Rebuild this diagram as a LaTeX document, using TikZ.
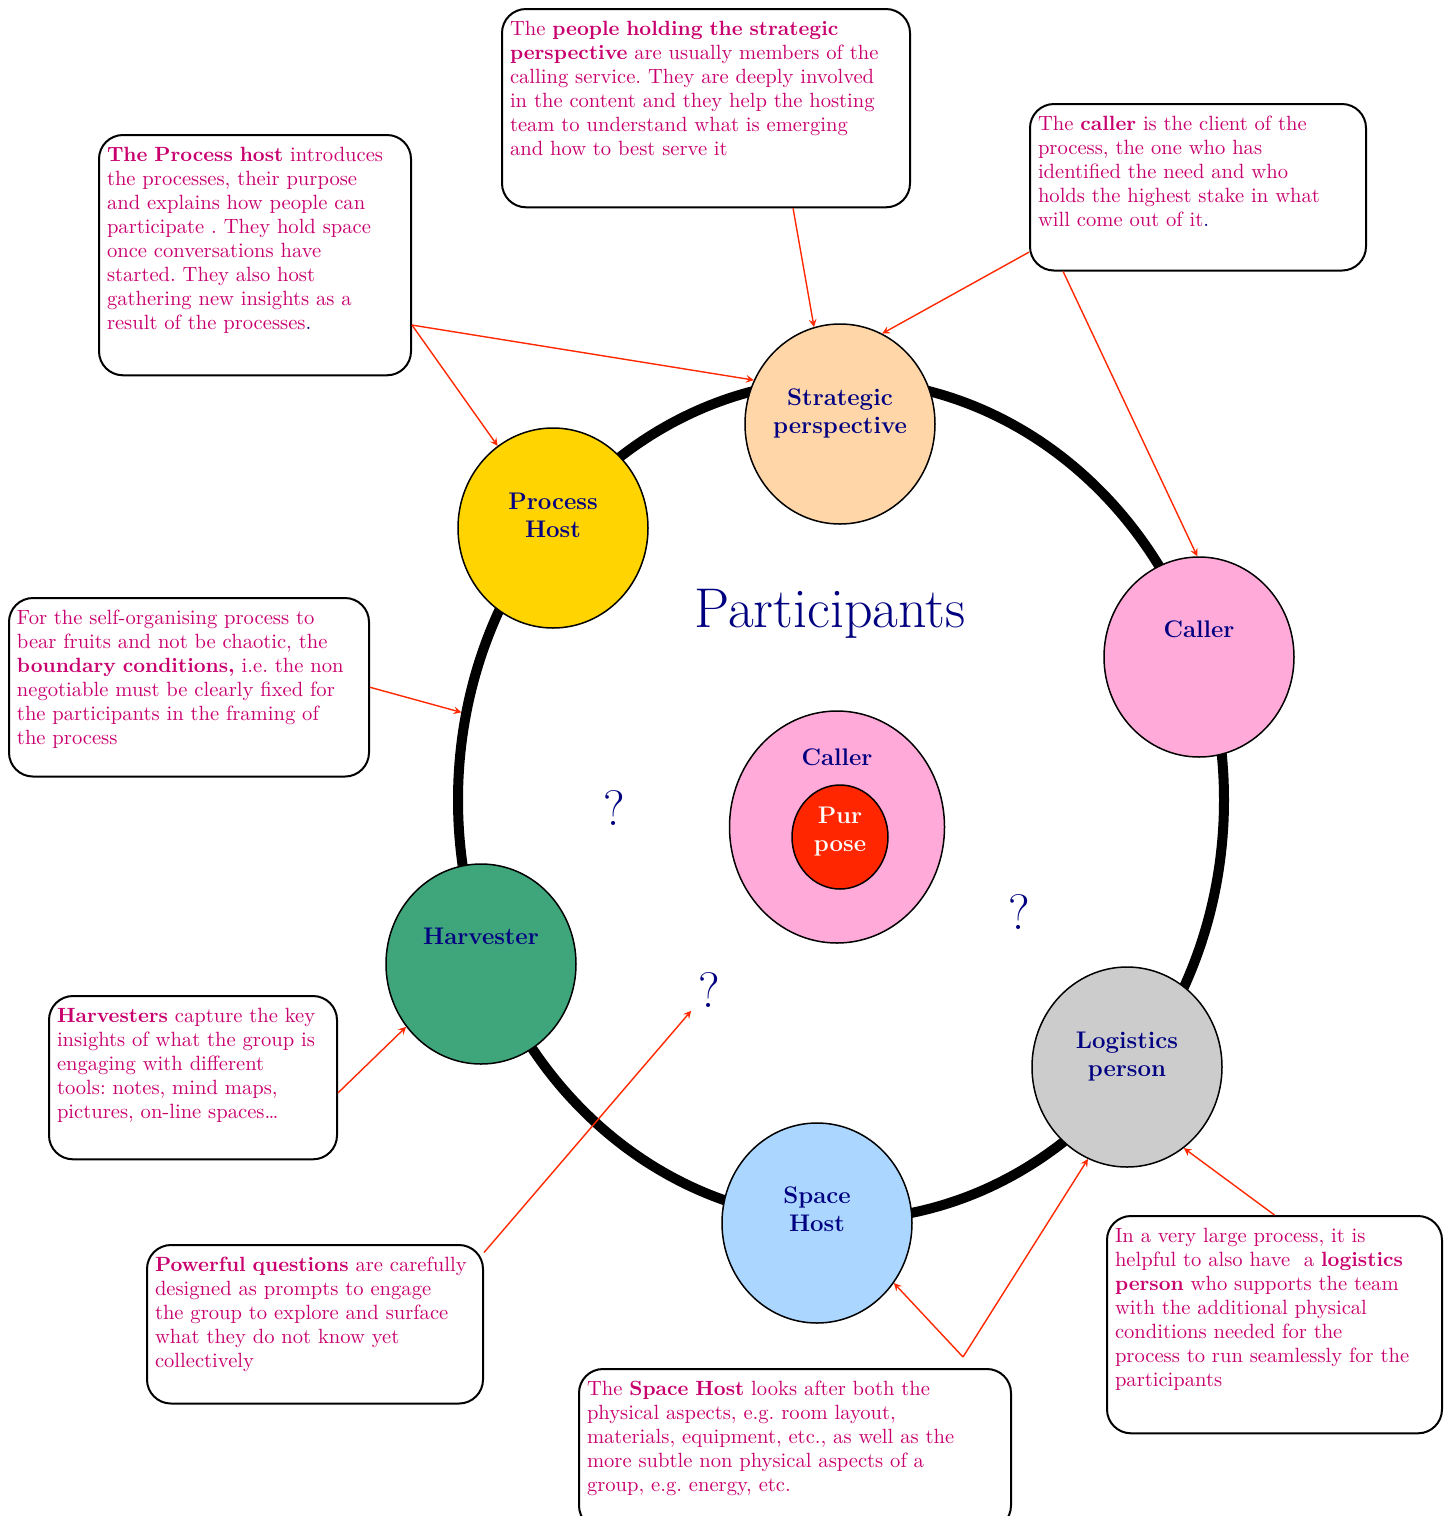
\documentclass[tikz,border=0pt]{standalone}
\usetikzlibrary{shapes.geometric}

\definecolor{navy}{RGB}{0,0,128}
\definecolor{notecol}{RGB}{200,0,110}
\definecolor{arrowred}{RGB}{255,40,0}
\definecolor{peach}{RGB}{255,214,168}
\definecolor{gold}{RGB}{255,212,0}
\definecolor{pink}{RGB}{255,170,216}
\definecolor{harvgreen}{RGB}{62,166,122}
\definecolor{logigray}{RGB}{204,204,204}
\definecolor{skyblue}{RGB}{170,214,255}
\definecolor{purpred}{RGB}{255,38,0}

\begin{document}
\begin{tikzpicture}[x=0.5pt,y=-0.5pt,
  note/.style={draw,line width=1pt,rounded corners=12pt,anchor=north west,align=left,inner xsep=4pt,inner ysep=6pt,text=notecol,font=\fontsize{10.3}{12}\selectfont\frenchspacing},
  role/.style={ellipse,draw,line width=0.75pt,inner sep=0pt,minimum width=95pt,minimum height=100pt,align=center,text=navy,font=\large\bfseries},
  ask/.style={text=navy,font=\Huge},
  hint/.style={->,>=stealth,draw=arrowred,line width=0.7pt}]
 \useasboundingbox (0,0) rectangle (1449,1516);
 \clip (0,0) rectangle (1449,1516);
 \node[draw,ellipse,line width=5pt,minimum width=383pt,minimum height=420pt,inner sep=0pt] (ring) at (841,800) {}; %外側の輪
 \node[role,fill=peach,text depth=13pt] (strat) at (840,424) {Strategic\\perspective};
 \node[role,fill=gold,text depth=13pt] (phost) at (553,528) {Process\\Host};
 \node[role,fill=pink,text depth=27.5pt] (caller) at (1199,657) {Caller};
 \node[role,fill=harvgreen,text depth=27.5pt] (harv) at (481,964) {Harvester};
 \node[role,fill=logigray,text depth=13pt] (logi) at (1127,1067) {Logistics\\person};
 \node[role,fill=skyblue,text depth=14pt] (shost) at (817,1223) {Space\\Host};
 \node[role,fill=pink,minimum width=107.5pt,minimum height=116pt,text depth=69.5pt] (core) at (837,827) {Caller}; %中心
 \node[role,fill=purpred,text=white,minimum width=48pt,minimum height=52pt,text depth=8pt] (purpose) at (840,837) {Pur\\pose};
 \node[text=navy,font=\fontsize{28}{33}\selectfont] (title) at (830,614) {Participants};
 \node[ask] (q1) at (614,808) {?};
 \node[ask] (q2) at (1019,912) {?};
 \node[ask] (q3) at (709,990) {?};
 %説明の枠
 \node[note,text width=148pt,text depth=101pt] (phnote) at (98,134) {\textbf{The Process host} introduces\\the processes, their purpose\\and explains how people can\\participate . They hold space\\once conversations have\\started. They also host\\gathering new insights as a\\result of the processes\textcolor{navy}{.}};
 \node[note,text width=196pt,text depth=80pt] (spnote) at (501,8) {The \textbf{people holding the strategic}\\\textbf{perspective} are usually members of the\\calling service. They are deeply involved\\in the content and they help the hosting\\team to understand what is emerging\\and how to best serve it};
 \node[note,text width=160pt,text depth=64pt] (clnote) at (1029,103) {The \textbf{caller} is the client of the\\process, the one who has\\identified the need and who\\holds the highest stake in what\\will come out of it\textcolor{navy}{.}};
 \node[note,text width=172pt,text depth=70pt] (bcnote) at (8,597) {For the self-organising process to\\bear fruits and not be chaotic, the\\\textbf{boundary conditions,} i.e. the non\\negotiable must be clearly fixed for\\the participants in the framing of\\the process};
 \node[note,text width=136pt,text depth=62.5pt] (hvnote) at (48,995) {\textbf{Harvesters} capture the key\\insights of what the group is\\engaging with different\\tools: notes, mind maps,\\pictures, on-line spaces\dots};
 \node[note,text width=160pt,text depth=60pt] (pqnote) at (146,1244) {\textbf{Powerful questions} are carefully\\designed as prompts to engage\\the group to explore and surface\\what they do not know yet\\collectively};
 \node[note,text width=208pt,text depth=61pt] (shnote) at (578,1368) {The \textbf{Space Host} looks after both the\\physical aspects, e.g. room layout,\\materials, equipment, etc., as well as the\\more subtle non physical aspects of a\\group, e.g. energy, etc.};
 \node[note,text width=159.5pt,text depth=89.5pt] (lgnote) at (1106,1215) {In a very large process, it is\\helpful to also have\ \ a \textbf{logistics}\\\textbf{person} who supports the team\\with the additional physical\\conditions needed for the\\process to run seamlessly for the\\participants};
 %矢印
 \coordinate (fork) at (963,1357);
 \draw[hint] (phnote.-24) -- (strat.153);
 \draw[hint] (phnote.-24) -- (phost.124);
 \draw[hint] (spnote.-49) -- (strat.105);
 \draw[hint] (clnote.201.5) -- (strat.65);
 \draw[hint] (clnote.212.6) -- (caller.91);
 \draw[hint] (bcnote.east) -- (ring.167);
 \draw[hint] (hvnote.-6) -- (harv.220);
 \draw[hint] (pqnote.23) -- (q3);
 \draw[hint] (fork) -- (shost.322);
 \draw[hint] (fork) -- (logi.247);
 \draw[hint] (lgnote.north) -- (logi.305);
\end{tikzpicture}
\end{document}
